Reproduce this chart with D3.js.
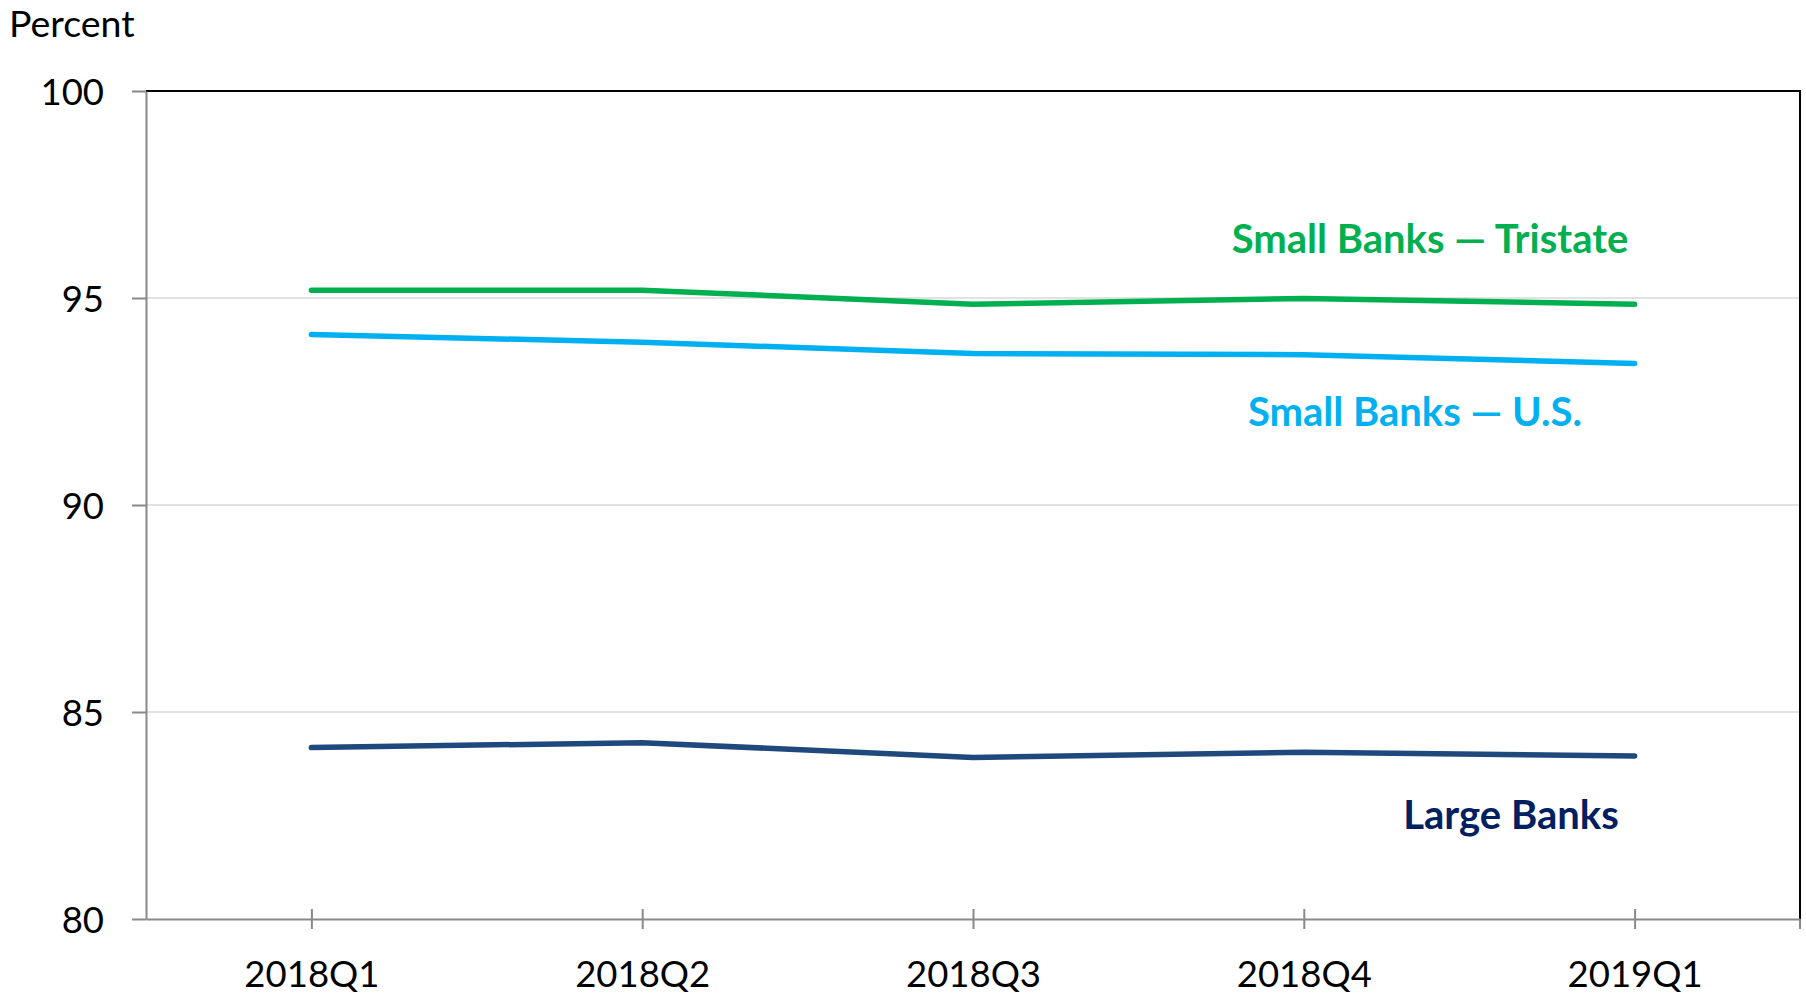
<!DOCTYPE html>
<html>
<head>
<meta charset="utf-8">
<script src="https://cdn.jsdelivr.net/npm/d3@7"></script>
<style>
  html, body { margin: 0; padding: 0; background: #ffffff; }
  svg { display: block; }
</style>
</head>
<body>
<svg id="chart" width="1806" height="997"></svg>
<script>
// ---- data ----
const categories = ["2018Q1", "2018Q2", "2018Q3", "2018Q4", "2019Q1"];
const smallTristate = [95.19, 95.19, 94.85, 94.99, 94.85];
const smallUS = [94.12, 93.93, 93.66, 93.63, 93.42];
const largeBanks = [84.14, 84.26, 83.90, 84.03, 83.94];
const yTicks = [80, 85, 90, 95, 100];
const seriesNames = ["Small Banks \u2014 Tristate", "Small Banks \u2014 U.S.", "Large Banks"];
const yAxisTitle = "Percent";

// ---- layout ----
const W = 1806, H = 997;
const plot = { left: 146, right: 1800, top: 91, bottom: 919 };
const fontFamily = "Lato, 'Open Sans', sans-serif";
const series = [
  { name: seriesNames[0], values: smallTristate, line: "#00b050", label: "#00b050", lx: 1430, ly: 253 },
  { name: seriesNames[1], values: smallUS, line: "#00b0f0", label: "#00b0f0", lx: 1415, ly: 426 },
  { name: seriesNames[2], values: largeBanks, line: "#1f497d", label: "#002060", lx: 1511, ly: 829 }
];

const svg = d3.select("#chart");

const x = d3.scalePoint().domain(categories).range([plot.left, plot.right]).padding(0.5);
const y = d3.scaleLinear().domain([80, 100]).range([plot.bottom, plot.top]);

// gridlines
svg.append("g")
  .selectAll("line")
  .data(yTicks.filter(t => t > 80 && t < 100))
  .join("line")
  .attr("x1", plot.left).attr("x2", plot.right)
  .attr("y1", d => y(d)).attr("y2", d => y(d))
  .attr("stroke", "#d9d9d9").attr("stroke-width", 1.5);

// top & right border
svg.append("path")
  .attr("d", `M${plot.left},${y(100)}H${plot.right}V${plot.bottom}`)
  .attr("fill", "none").attr("stroke", "#000").attr("stroke-width", 2);

// y axis
const yAxis = svg.append("g")
  .attr("transform", `translate(${plot.left},0)`)
  .call(d3.axisLeft(y).tickValues(yTicks).tickSize(14).tickSizeOuter(0).tickPadding(28));
yAxis.select(".domain").attr("stroke", "#898989").attr("stroke-width", 2);
yAxis.selectAll(".tick line").attr("stroke", "#898989").attr("stroke-width", 2);
yAxis.selectAll(".tick text")
  .attr("font-family", fontFamily).attr("font-size", 36.5).attr("fill", "#000")
  .attr("dy", "0.36em");

// x axis
const xAxis = svg.append("g")
  .attr("transform", `translate(0,${plot.bottom})`)
  .call(d3.axisBottom(x).tickSize(10).tickSizeOuter(0).tickPadding(0));
xAxis.select(".domain").attr("stroke", "#898989").attr("stroke-width", 2);
xAxis.selectAll(".tick line").attr("y1", -10).attr("y2", 10)
  .attr("stroke", "#898989").attr("stroke-width", 2);
xAxis.selectAll(".tick text")
  .attr("font-family", fontFamily).attr("font-size", 36.5).attr("fill", "#000")
  .attr("y", 68).attr("dy", 0);
// closing tick at right end of category axis
xAxis.append("line")
  .attr("x1", x.range()[1]).attr("x2", x.range()[1])
  .attr("y1", 0).attr("y2", 10)
  .attr("stroke", "#898989").attr("stroke-width", 2);

// y axis title
svg.append("text")
  .attr("x", 9).attr("y", 37)
  .attr("font-family", fontFamily).attr("font-size", 37.5).attr("fill", "#000")
  .text(yAxisTitle);

// lines
const line = d3.line().x((d, i) => x(categories[i])).y(d => y(d));
svg.append("g")
  .selectAll("path")
  .data(series)
  .join("path")
  .attr("d", d => line(d.values))
  .attr("fill", "none")
  .attr("stroke", d => d.line)
  .attr("stroke-width", 5.5)
  .attr("stroke-linecap", "round")
  .attr("stroke-linejoin", "round");

// series labels
svg.append("g")
  .selectAll("text")
  .data(series)
  .join("text")
  .attr("x", d => d.lx).attr("y", d => d.ly)
  .attr("text-anchor", "middle")
  .attr("font-family", fontFamily).attr("font-weight", "bold").attr("font-size", 40)
  .attr("fill", d => d.label)
  .text(d => d.name);
</script>
</body>
</html>
